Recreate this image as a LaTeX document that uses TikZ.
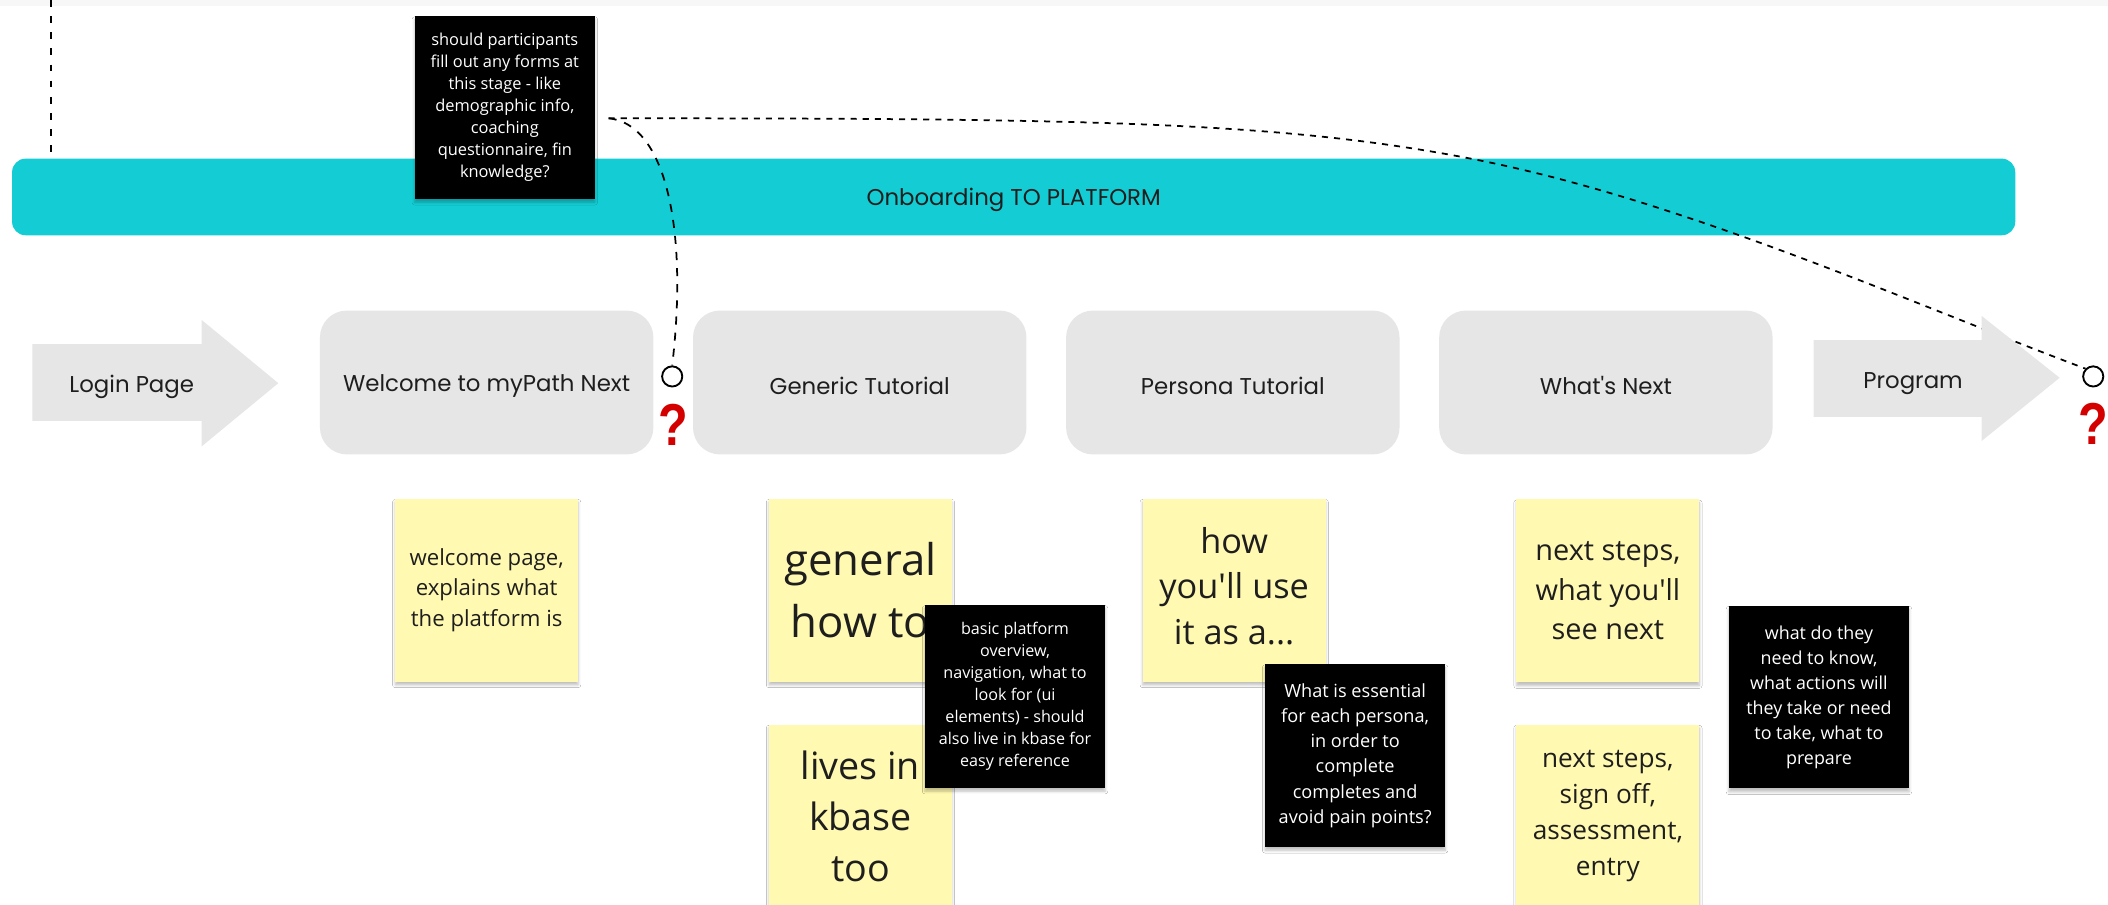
\documentclass[tikz,border=0pt]{standalone}
\usepackage{fontspec}
\setmainfont{Open Sans}
\newfontfamily\labelfont{Poppins}
\newfontfamily\markfont{Liberation Sans}
\usetikzlibrary{shadows.blur}

\definecolor{bargreen}{HTML}{14CDD4}
\definecolor{stagegray}{HTML}{E6E6E6}
\definecolor{stickyyellow}{HTML}{FFF9B1}
\definecolor{inktext}{HTML}{1E1E1E}
\definecolor{markred}{HTML}{D40000}
\definecolor{stripgray}{HTML}{F7F7F7}

\begin{document}
\begin{tikzpicture}[x=1pt,y=-1pt,
  stage/.style={fill=stagegray, rounded corners=20pt, minimum width=248pt,
    minimum height=107pt, inner sep=0pt},
  steplabel/.style={inner sep=0pt, text=inktext,
    font=\labelfont\fontsize{17}{20}\selectfont},
  sticky/.style={fill=stickyyellow, minimum width=136pt, minimum height=136pt,
    inner sep=0pt, align=center, text=inktext,
    blur shadow={shadow xshift=0pt, shadow yshift=-2.5pt,
      shadow blur radius=2pt, shadow blur steps=4, shadow opacity=25}},
  note/.style={fill=black, minimum width=134pt, minimum height=136pt,
    inner sep=0pt, align=center, text=white,
    blur shadow={shadow xshift=0pt, shadow yshift=-2.5pt,
      shadow blur radius=2pt, shadow blur steps=4, shadow opacity=25}},
  hole/.style={circle, draw=black, line width=1.4pt, fill=white,
    minimum size=15pt, inner sep=0pt},
  qmark/.style={inner sep=0pt, text=markred,
    font=\markfont\bfseries\fontsize{44}{44}\selectfont},
  link/.style={line width=1.3pt, black}
]
% page frame
\useasboundingbox (0,0) rectangle (1568,673);
\fill[white] (0,0) rectangle (1568,673);
\fill[stripgray] (0,0) rectangle (1568,4.5);

% lead-in dashed line from above
\coordinate (lead) at (38,0);

% phase bar
\node[fill=bargreen, rounded corners=10pt, minimum width=1490pt,
  minimum height=57pt, inner sep=0pt] (bar) at (754,146.5) {};
\node[steplabel] (bartitle) at (754,148.5) {Onboarding TO PLATFORM};
\draw[link, dash pattern=on 5pt off 7pt] (lead) -- (lead |- bar.north);

% question note on the bar
\node[note, font=\fontsize{12.2}{16.4}\selectfont] (b0) at (375.5,80)
  {should participants\\fill out any forms at\\this stage - like\\demographic info,\\coaching\\questionnaire, fin\\knowledge?};

% open points
\node[hole] (q1) at (500,280) {};
\node[hole] (q2) at (1557,280) {};
\node[qmark] (qm1) at (501,316) {\scalebox{0.82}[1]{?}};
\node[qmark] (qm2) at (1557,315) {\scalebox{0.82}[1]{?}};

\coordinate (src) at ([shift={(10,8)}]b0.east);
\draw[link, dash pattern=on 6pt off 6pt]
  (src) .. controls (495,92) and (512,170) .. (q1.north);
\draw[link, dash pattern=on 4.5pt off 4.5pt]
  (src) .. controls (800,88) and (950,90) .. (1094,118)
        .. controls (1250,148) and (1420,225) .. (q2.north west);

% journey steps
\fill[stagegray] (24,256) -- (150,256) -- (150,238) -- (207,285)
  -- (150,332) -- (150,313) -- (24,313) -- cycle;
\node[steplabel] (login) at (98,287.5) {Login Page};

\node[stage] (welcome) at (362,284.5) {};
\node[stage] (generic) at (639.5,284.5) {};
\node[stage] (persona) at (917,284.5) {};
\node[stage] (next) at (1194.5,284.5) {};
\node[steplabel] (welcometext) at (welcome.center) [yshift=-2.5pt] {Welcome to myPath Next};
\node[steplabel] (generictext) at (generic.center) [yshift=-2.5pt] {Generic Tutorial};
\node[steplabel] (personatext) at (persona.center) [yshift=-2.5pt] {Persona Tutorial};
\node[steplabel] (nexttext) at (next.center) [yshift=-2.5pt] {What\textquotesingle s Next};

\fill[stagegray] (1349,253) -- (1474,253) -- (1474,235) -- (1532,281)
  -- (1474,328) -- (1474,310) -- (1349,310) -- cycle;
\node[steplabel] (program) at (1423,285) {Program};

% sticky notes
\node[sticky, font=\fontsize{16.5}{23}\selectfont] (s1) at (362,439)
  {welcome page,\\explains what\\the platform is};
\node[sticky, font=\fontsize{32.5}{46}\selectfont] (s2) at (640,439)
  {general\\how to};
\node[sticky, font=\fontsize{28}{38}\selectfont] (s3) at (640,607)
  {lives in\\kbase\\too};
\node[sticky] (s4) at (918,439) {};
\node[inner sep=0pt, align=center, text=inktext,
  font=\fontsize{25.5}{34}\selectfont] (s4text) at ([yshift=3pt]s4.center)
  {how\\you\textquotesingle ll use\\it as a...};
\node[sticky, font=\fontsize{21.5}{29.5}\selectfont] (s5) at (1196,439.5)
  {next steps,\\what you\textquotesingle ll\\see next};
\node[sticky, font=\fontsize{19.5}{26.8}\selectfont] (s6) at (1196,607)
  {next steps,\\sign off,\\assessment,\\entry};

% comment notes
\node[note, font=\fontsize{12}{16.4}\selectfont] (b1) at (755,518)
  {basic platform\\overview,\\navigation, what to\\look for (ui\\elements) - should\\also live in kbase for\\easy reference};
\node[note, font=\fontsize{13.5}{18.8}\selectfont] (b2) at (1008,562)
  {What is essential\\for each persona,\\in order to\\complete\\completes and\\avoid pain points?};
\node[note, font=\fontsize{13.3}{18.6}\selectfont] (b3) at (1353,518.5)
  {what do they\\need to know,\\what actions will\\they take or need\\to take, what to\\prepare};
\end{tikzpicture}
\end{document}
